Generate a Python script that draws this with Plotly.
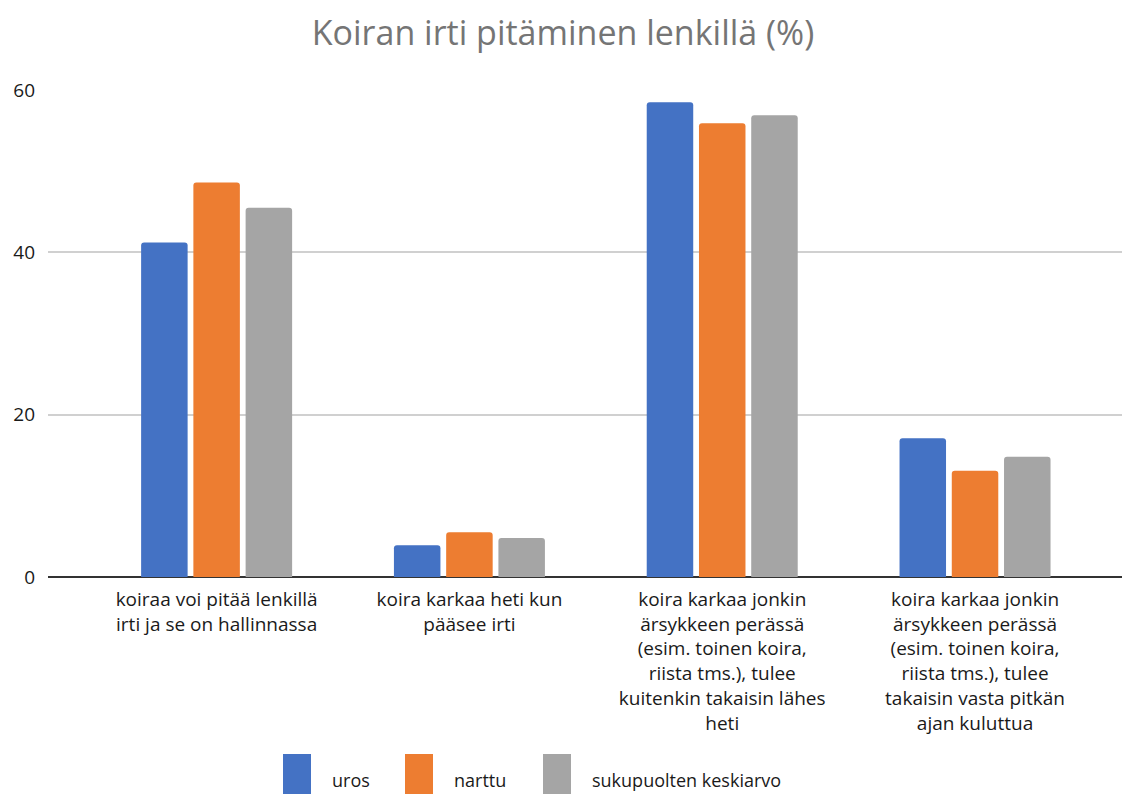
import plotly.graph_objects as go

categories = [
    "koiraa voi pitää lenkillä<br>irti ja se on hallinnassa",
    "koira karkaa heti kun<br>pääsee irti",
    "koira karkaa jonkin<br>ärsykkeen perässä<br>(esim. toinen koira,<br>riista tms.), tulee<br>kuitenkin takaisin lähes<br>heti",
    "koira karkaa jonkin<br>ärsykkeen perässä<br>(esim. toinen koira,<br>riista tms.), tulee<br>takaisin vasta pitkän<br>ajan kuluttua",
]
series_names = ["uros", "narttu", "sukupuolten keskiarvo"]
uros = [41.2, 3.9, 58.5, 17.1]
narttu = [48.6, 5.5, 55.9, 13.1]
keskiarvo = [45.5, 4.8, 56.9, 14.8]
colors = ["#4472C4", "#ED7D31", "#A5A5A5"]
y_ticks = [0, 20, 40, 60]

FONT = "Open Sans"
OFF = 8  # page body margin offset
W, H = 1130 - OFF, 794 - OFF
ml, mr, mt, mb = 48 - OFF, 0, 90 - OFF, 217

fig = go.Figure()
for name, vals, col in zip(series_names, [uros, narttu, keskiarvo], colors):
    fig.add_trace(go.Bar(
        x=list(range(len(categories))), y=vals, name=name,
        marker=dict(color=col, line=dict(width=0), cornerradius=3),
        showlegend=False,
    ))

fig.update_layout(
    width=W, height=H,
    margin=dict(l=ml, r=mr, t=mt, b=mb),
    paper_bgcolor="white", plot_bgcolor="white",
    barmode="group", bargap=0.38, bargroupgap=0.11,
    title=dict(text="Koiran irti pitäminen lenkillä (%)", x=(563 - OFF) / W, xanchor="center",
               y=1 - (33 - OFF) / H, yanchor="middle",
               font=dict(family=FONT, size=34, color="#757575")),
    font=dict(family=FONT, size=19, color="#222222"),
    xaxis=dict(
        tickmode="array", tickvals=list(range(len(categories))), ticktext=categories,
        range=[-0.667, 3.613], showgrid=False, showline=False, zeroline=False,
        ticks="", tickangle=0, ticklabelstandoff=9,
        tickfont=dict(family=FONT, size=19, color="#1a1a1a"),
    ),
    yaxis=dict(
        range=[0, 60], tickvals=y_ticks, showgrid=True, gridcolor="#D0D0D0", gridwidth=1.5,
        zeroline=True, zerolinecolor="#333333", zerolinewidth=2,
        showline=False, ticks="", ticklabelstandoff=12,
        tickfont=dict(family=FONT, size=19, color="#1a1a1a"),
    ),
)

# legend drawn as paper-anchored swatches with labels
pw = W - ml - mr
ph = H - mt - mb
legend_x = [283, 405, 543]
for lx, name, col in zip(legend_x, series_names, colors):
    x0 = lx - OFF
    fig.add_shape(type="rect", xref="paper", yref="paper",
                  x0=(x0 - ml) / pw, x1=(x0 + 28 - ml) / pw,
                  y0=(H - mb - (800 - OFF)) / ph, y1=(H - mb - (754 - OFF)) / ph,
                  fillcolor=col, line=dict(width=0), layer="above")
    fig.add_annotation(text=name, xref="paper", yref="paper",
                       x=(x0 + 47 - ml) / pw, y=(H - mb - (780 - OFF)) / ph,
                       xanchor="left", yanchor="middle", showarrow=False,
                       font=dict(family=FONT, size=18, color="#1a1a1a"))

fig.write_html("out.html")
